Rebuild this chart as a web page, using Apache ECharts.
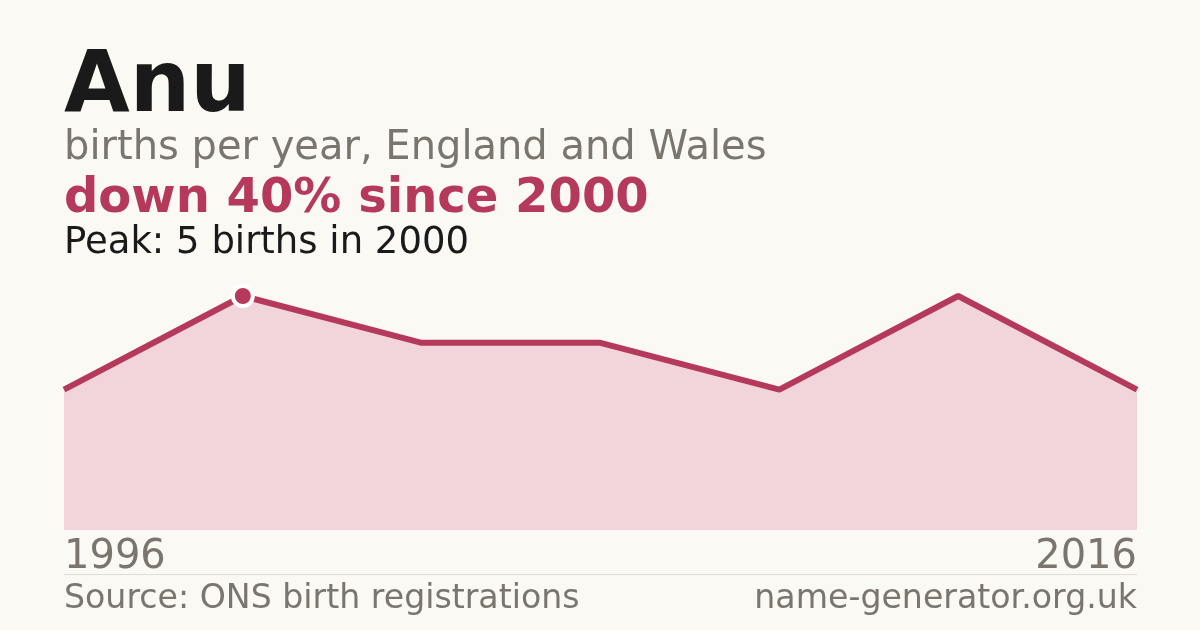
<!DOCTYPE html>
<html lang="en">
<head>
<meta charset="UTF-8">
<title>Anu</title>
<script src="https://cdn.jsdelivr.net/npm/echarts@6/dist/echarts.min.js"></script>
<style>
  html, body { margin: 0; padding: 0; background: #faf9f4; }
  #main { width: 1200px; height: 630px; }
</style>
</head>
<body>
<div id="main"></div>
<script>
// years with recorded births (only first and last are labelled)
var years = ['1996', '2000', '2003', '2006', '2009', '2013', '2016'];
var births = [3, 5, 4, 4, 3, 5, 3];
var peakIndex = 1;

var crimson = '#b5395a';
var grey = '#7a766e';
var font = 'DejaVu Sans';

var myChart = echarts.init(document.getElementById('main'));

var seriesData = births.map(function (v, i) {
    if (i === peakIndex) {
        return {
            value: v,
            symbol: 'circle',
            symbolSize: 20,
            itemStyle: { color: crimson, borderColor: '#ffffff', borderWidth: 4 }
        };
    }
    return { value: v, symbol: 'none' };
});

var option = {
    backgroundColor: '#faf9f4',
    animation: false,
    textStyle: { fontFamily: font },
    grid: { left: 64, right: 63, top: 296, bottom: 100 },
    xAxis: {
        type: 'category',
        data: years,
        boundaryGap: false,
        axisLine: { show: false },
        axisTick: { show: false },
        splitLine: { show: false },
        axisLabel: {
            interval: function (i) { return i === 0 || i === years.length - 1; },
            color: grey,
            fontSize: 40,
            fontFamily: font,
            margin: 8,
            verticalAlign: 'top',
            alignMinLabel: 'left',
            alignMaxLabel: 'right'
        }
    },
    yAxis: {
        type: 'value',
        min: 0,
        max: 5,
        show: false,
        splitLine: { show: false }
    },
    series: [{
        type: 'line',
        data: seriesData,
        symbol: 'none',
        showSymbol: true,
        lineStyle: { color: crimson, width: 6 },
        itemStyle: { color: crimson },
        areaStyle: { color: '#f2d5da', opacity: 1 },
        z: 2
    }],
    graphic: [
        { type: 'text', left: 64, top: 46,
          style: { text: 'Anu', font: 'bold 85px "DejaVu Sans"', fill: '#1a1a1a' } },
        { type: 'text', left: 64, top: 129,
          style: { text: 'births per year, England and Wales', font: '40px "DejaVu Sans"', fill: grey } },
        { type: 'text', left: 64, top: 176,
          style: { text: 'down 40% since 2000', font: 'bold 48px "DejaVu Sans"', fill: crimson } },
        { type: 'text', left: 64, top: 225,
          style: { text: 'Peak: 5 births in 2000', font: '37px "DejaVu Sans"', fill: '#1a1a1a' } },
        { type: 'rect', shape: { x: 64, y: 574, width: 1073, height: 1 },
          style: { fill: '#e0dcd4' } },
        { type: 'text', left: 64, top: 583,
          style: { text: 'Source: ONS birth registrations', font: '33.2px "DejaVu Sans"', fill: grey } },
        { type: 'text', right: 63, top: 583,
          style: { text: 'name-generator.org.uk', font: '33.2px "DejaVu Sans"', fill: grey } }
    ]
};
myChart.setOption(option);
</script>
</body>
</html>
